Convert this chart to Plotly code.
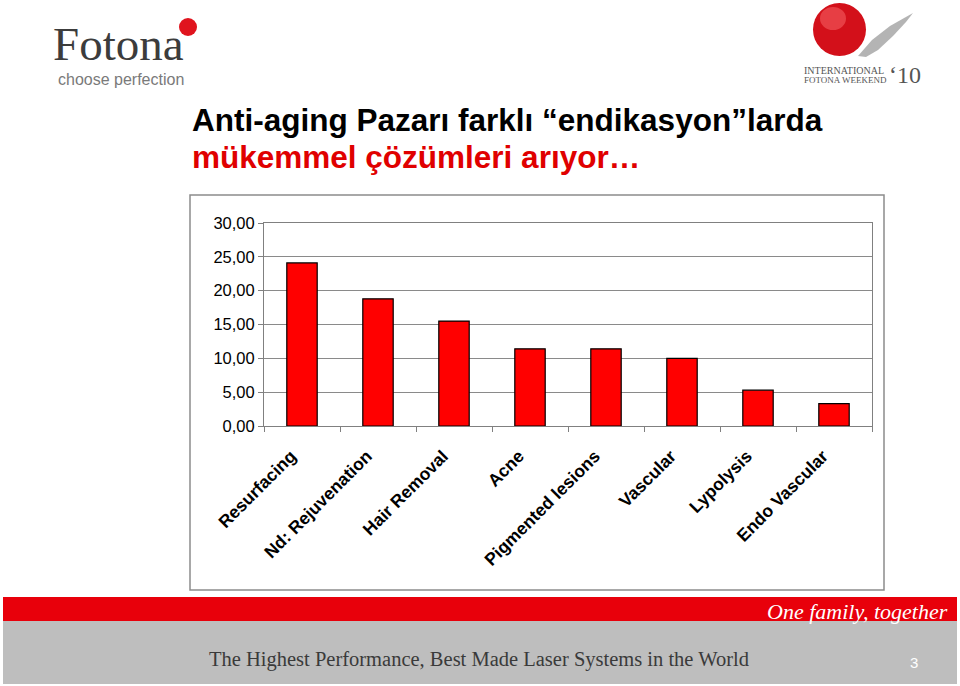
import plotly.graph_objects as go

categories = ["Resurfacing", "Nd: Rejuvenation", "Hair Removal", "Acne",
              "Pigmented lesions", "Vascular", "Lypolysis", "Endo Vascular"]
values = [24.1, 18.8, 15.5, 11.4, 11.4, 10.0, 5.3, 3.3]
y_ticks = [0, 5, 10, 15, 20, 25, 30]

title_line1 = "Anti-aging Pazarı farklı “endikasyon”larda"
title_line2 = "mükemmel çözümleri arıyor…"
footer_text = "The Highest Performance, Best Made Laser Systems in the World"
slogan = "One family, together"
page_no = "3"

W, H = 960, 686


def px(x):
    return x / W


def py(y):
    return 1 - y / H


fig = go.Figure()
fig.add_trace(go.Bar(
    x=categories, y=values,
    marker=dict(color="#FF0000", line=dict(color="#000000", width=1.2)),
    width=0.4,
))

shapes = []
# chart outer box
shapes.append(dict(type="rect", xref="paper", yref="paper",
                   x0=px(190), x1=px(884), y0=py(590), y1=py(195),
                   line=dict(color="#8c8c8c", width=1.5), fillcolor="white",
                   layer="below"))
# footer bands
shapes.append(dict(type="rect", xref="paper", yref="paper",
                   x0=px(3), x1=px(957), y0=py(621), y1=py(597),
                   line=dict(width=0), fillcolor="#E8000B", layer="below"))
shapes.append(dict(type="rect", xref="paper", yref="paper",
                   x0=px(3), x1=px(957), y0=py(684), y1=py(621),
                   line=dict(width=0), fillcolor="#BEBEBE", layer="below"))
# Fotona red dot
shapes.append(dict(type="circle", xref="paper", yref="paper",
                   x0=px(179), x1=px(197), y0=py(36), y1=py(18),
                   line=dict(width=0), fillcolor="#E0141E"))


def path_from(points):
    s = "M " + " L ".join(f"{px(a):.5f},{py(b):.5f}" for a, b in points) + " Z"
    return s


# weekend logo shadow
shapes.append(dict(type="path", xref="paper", yref="paper",
                   path=path_from([(858, 56), (872, 40), (890, 26), (913, 13),
                                   (906, 22), (893, 36), (878, 50), (866, 57)]),
                   line=dict(width=0), fillcolor="#B4B4B4"))
# sphere
shapes.append(dict(type="circle", xref="paper", yref="paper",
                   x0=px(813), x1=px(866), y0=py(56), y1=py(3),
                   line=dict(width=0), fillcolor="#D3101A"))
shapes.append(dict(type="circle", xref="paper", yref="paper",
                   x0=px(820), x1=px(846), y0=py(30), y1=py(7),
                   line=dict(width=0), fillcolor="rgba(255,120,120,0.45)"))

annotations = [
    dict(text="Fotona", x=px(51), y=py(44), xanchor="left", yanchor="middle",
         font=dict(family="Liberation Serif", size=47, color="#3c3c3c")),
    dict(text="choose perfection", x=px(56), y=py(80), xanchor="left", yanchor="middle",
         font=dict(family="Liberation Sans", size=16, color="#7a7a7a")),
    dict(text="INTERNATIONAL", x=px(802), y=py(71), xanchor="left", yanchor="middle",
         font=dict(family="Liberation Serif", size=10, color="#555555")),
    dict(text="FOTONA WEEKEND", x=px(802), y=py(80), xanchor="left", yanchor="middle",
         font=dict(family="Liberation Serif", size=9, color="#555555")),
    dict(text="‘10", x=px(887), y=py(75), xanchor="left", yanchor="middle",
         font=dict(family="Liberation Serif", size=24, color="#555555")),
    dict(text="<b>" + title_line1 + "</b>", x=px(190), y=py(120), xanchor="left", yanchor="middle",
         font=dict(family="Liberation Sans", size=31.5, color="#000000")),
    dict(text="<b>" + title_line2 + "</b>", x=px(190), y=py(157), xanchor="left", yanchor="middle",
         font=dict(family="Liberation Sans", size=31.5, color="#E00000")),
    dict(text="<i>" + slogan + "</i>", x=px(950), y=py(611), xanchor="right", yanchor="middle",
         font=dict(family="Liberation Serif", size=22, color="#FFFFFF")),
    dict(text=footer_text, x=px(479), y=py(659), xanchor="center", yanchor="middle",
         font=dict(family="Liberation Serif", size=20.5, color="#3a3a3a")),
    dict(text=page_no, x=px(914), y=py(662), xanchor="center", yanchor="middle",
         font=dict(family="Liberation Sans", size=15, color="#FFFFFF")),
]
for a in annotations:
    a.update(xref="paper", yref="paper", showarrow=False)

fig.update_layout(
    width=W, height=H,
    margin=dict(l=0, r=0, t=0, b=0),
    paper_bgcolor="white",
    plot_bgcolor="#C0C0C0",
    separators=",.",
    showlegend=False,
    shapes=shapes,
    annotations=annotations,
    xaxis=dict(
        domain=[px(264), px(872)],
        automargin=False,
        showgrid=False,
        showline=True, linecolor="#808080", linewidth=1, mirror=True,
        ticks="outside", tickson="boundaries", ticklen=5, tickcolor="#808080",
        tickangle=-45,
        ticklabelstandoff=12,
        ticklabelshift=-11,
        tickfont=dict(family="Liberation Sans", size=17.5, color="#000000",
                      weight="bold"),
    ),
    yaxis=dict(
        domain=[py(426), py(223)],
        automargin=False,
        range=[0, 30],
        tickvals=y_ticks,
        tickformat=".2f",
        showgrid=True, gridcolor="#8a8a8a", gridwidth=1,
        showline=True, linecolor="#808080", linewidth=1, mirror=True,
        ticks="outside", ticklen=5, tickcolor="#808080",
        tickfont=dict(family="Liberation Sans", size=16.5, color="#000000"),
        zeroline=False,
    ),
)

fig.write_html("out.html")
